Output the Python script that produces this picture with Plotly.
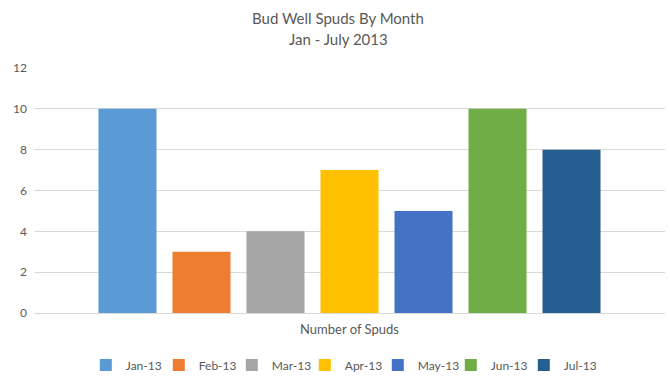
import plotly.graph_objects as go

category = ["Number of Spuds"]
months = ["Jan-13", "Feb-13", "Mar-13", "Apr-13", "May-13", "Jun-13", "Jul-13"]
spuds = [10, 3, 4, 7, 5, 10, 8]
colors = ["#5B9BD5", "#ED7D31", "#A5A5A5", "#FFC000", "#4472C4", "#70AD47", "#255E91"]
title_lines = ["Bud Well Spuds By Month", "Jan - July 2013"]

FONT = "Lato, Carlito, 'Open Sans', sans-serif"
GREY = "#595959"

fig = go.Figure()
for m, v, c in zip(months, spuds, colors):
    fig.add_trace(go.Bar(x=category, y=[v], name=m, marker_color=c, marker_line_width=0))

fig.add_annotation(text=title_lines[0], xref="paper", yref="paper", x=0.482, y=1.204,
                   xanchor="center", yanchor="middle", showarrow=False,
                   font=dict(family=FONT, size=15, color=GREY))
fig.add_annotation(text=title_lines[1], xref="paper", yref="paper", x=0.482, y=1.118,
                   xanchor="center", yanchor="middle", showarrow=False,
                   font=dict(family=FONT, size=15, color=GREY))

fig.update_layout(
    width=670, height=383,
    paper_bgcolor="white", plot_bgcolor="white",
    font=dict(family=FONT, color=GREY, size=12),
    margin=dict(l=34, r=5, t=68, b=70, autoexpand=False),
    barmode="group", bargap=0.179, bargroupgap=0.216,
    showlegend=True,
    legend=dict(orientation="h", x=0.487, xanchor="center", y=-0.212, yanchor="middle",
                font=dict(family=FONT, size=12, color=GREY), itemwidth=30,
                entrywidth=28, traceorder="normal"),
    xaxis=dict(showgrid=False, showline=False, ticks="", automargin=False,
               ticklabelstandoff=7, tickfont=dict(size=13, color=GREY)),
    yaxis=dict(range=[0, 12], dtick=2, showgrid=True, gridcolor="#D9D9D9", gridwidth=1,
               zeroline=True, zerolinecolor="#D9D9D9", zerolinewidth=1, automargin=False,
               showline=False, ticks="", ticklabelstandoff=6,
               tickfont=dict(size=12, color=GREY)),
)
fig.write_html("out.html", config={"displayModeBar": False},
               post_script="document.body.style.margin='0';")
